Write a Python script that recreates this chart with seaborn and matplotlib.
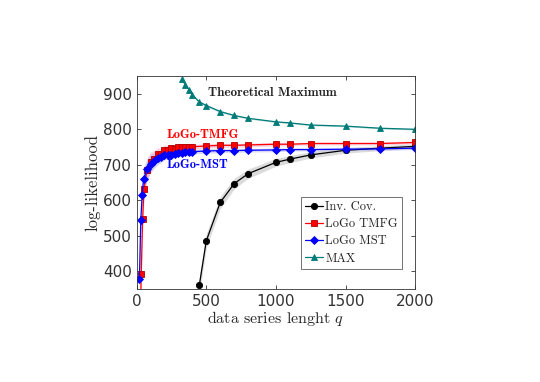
import numpy as np
import pandas as pd
import matplotlib
matplotlib.use("Agg")
import matplotlib.pyplot as plt
import seaborn as sns

# data
q_inv = [450, 500, 600, 700, 800, 1000, 1100, 1250, 1500, 1750, 2000]
ll_inv = [361, 486, 594, 647, 675, 707, 716, 728, 741, 747, 752]
sd_inv = [22, 20, 17, 15, 13, 11, 10, 9, 8, 7, 7]

q_tmfg = [25, 33, 43, 53, 75, 100, 125, 150, 175, 200, 225, 250, 275, 300, 325, 350, 375, 400,
          500, 600, 700, 800, 1000, 1100, 1250, 1500, 1750, 2000]
ll_tmfg = [250, 393, 547, 632, 686, 709, 717, 730, 730, 743, 743, 747, 745, 750, 750, 750, 750, 751,
           753, 755, 755, 756, 758, 758, 760, 760, 760, 763]
sd_tmfg = [45, 40, 36, 33, 30, 26, 22, 18, 15, 13, 12, 11, 10, 9, 8, 8, 7, 7,
           6, 6, 5, 5, 5, 4, 4, 4, 4, 4]

q_mst = [20, 30, 40, 50, 75, 100, 125, 150, 175, 200, 225, 250, 275, 300, 325, 350, 375, 400,
         500, 600, 700, 800, 1000, 1100, 1250, 1500, 1750, 2000]
ll_mst = [379, 545, 616, 660, 688, 703, 712, 718, 722, 727, 729, 728, 731, 733, 733, 735, 735, 737,
          739, 740, 740, 741, 742, 743, 743, 744, 745, 747]
sd_mst = [45, 40, 36, 33, 30, 26, 22, 18, 15, 13, 12, 11, 10, 9, 8, 8, 7, 7,
          6, 6, 5, 5, 5, 4, 4, 4, 4, 4]

q_max = [325, 350, 375, 400, 450, 500, 600, 700, 800, 1000, 1100, 1250, 1500, 1750, 2000]
ll_max = [943, 924, 912, 897, 877, 867, 850, 839, 831, 821, 818, 812, 809, 803, 800]
sd_max = [4, 4, 3, 3, 3, 3, 3, 2, 2, 2, 2, 2, 2, 2, 2]

series = [
    ("Inv. Cov.", q_inv, ll_inv, sd_inv, "black", "o", "#b8b8b8"),
    ("LoGo TMFG", q_tmfg, ll_tmfg, sd_tmfg, "red", "s", "#f0a8c8"),
    ("LoGo MST", q_mst, ll_mst, sd_mst, "blue", "D", "#b0b0f0"),
    ("MAX", q_max, ll_max, sd_max, "#007b78", "^", "#80c0bc"),
]

sns.set_style("white")
plt.rcParams["mathtext.fontset"] = "cm"

fig = plt.figure(figsize=(5.4, 3.82), dpi=100)
ax = fig.add_axes([0.253, 0.243, 0.516, 0.558])

for name, q, ll, sd, col, mk, band in series:
    df = pd.DataFrame({"q": q, "ll": ll})
    lo = np.array(ll) - np.array(sd)
    hi = np.array(ll) + np.array(sd)
    ax.fill_between(q, lo, hi, color=band, alpha=0.5, lw=0)
    ms = 4.5 if mk != "D" else 4
    sns.lineplot(data=df, x="q", y="ll", ax=ax, color=col, marker=mk, markersize=ms,
                 markeredgecolor=col if col != "red" else "#b00000", markeredgewidth=0.6,
                 linewidth=0.9, label=name)

ax.set_xlim(0, 2000)
ax.set_ylim(350, 950)
ax.set_xticks([0, 500, 1000, 1500, 2000])
ax.set_yticks([400, 500, 600, 700, 800, 900])
ax.tick_params(direction="in", length=3, labelsize=11, colors="#333333", width=0.6,
               top=True, right=True, bottom=True, left=True)
for lbl in ax.get_xticklabels() + ax.get_yticklabels():
    lbl.set_family("DejaVu Sans")
for s in ax.spines.values():
    s.set_color("#333333")
    s.set_linewidth(0.6)

ax.set_xlabel(r"data series lenght $q$", fontsize=11.5, family="cmr10", color="#262626", labelpad=0)
ax.set_ylabel("log-likelihood", fontsize=12, family="cmr10", color="#262626", labelpad=2)

ax.text(510, 903, "Theoretical Maximum", family="cmb10", fontsize=9.5, color="#262626", va="center")
ax.text(215, 784, "LoGo-TMFG", family="cmb10", fontsize=9, color="red", va="center")
ax.text(215, 700, "LoGo-MST", family="cmb10", fontsize=9, color="blue", va="center")

leg = ax.legend(loc="lower right", bbox_to_anchor=(0.953, 0.095), prop={"family": "cmr10", "size": 9},
                frameon=True, fancybox=False, edgecolor="#333333", handlelength=1.4,
                handletextpad=0.2, borderpad=0.35, labelspacing=0.4, borderaxespad=0)
leg.get_frame().set_linewidth(0.6)

fig.savefig("out.png", dpi=100, facecolor="white")
